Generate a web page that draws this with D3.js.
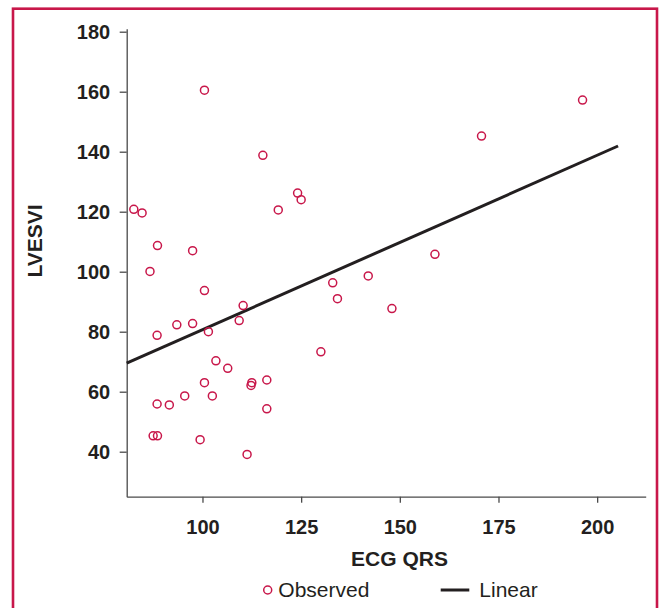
<!DOCTYPE html>
<html>
<head>
<meta charset="utf-8">
<script src="https://cdn.jsdelivr.net/npm/d3@7"></script>
<style>
  body { margin: 0; background: #fff; }
  text { font-family: "Liberation Sans", Arial, sans-serif; fill: #231f20; }
  .axis path, .axis line { stroke: #4a4a4a; stroke-width: 1.3px; }
  .axis text { font-size: 20px; font-weight: bold; }
</style>
</head>
<body>
<div id="chart"></div>
<script>
// observed points
var qrs = [100.5, 115.3, 82.6, 84.7, 119.2, 124.1, 125.0, 88.6, 97.5, 86.7,
           100.5, 110.3, 133.0, 134.2, 88.5, 93.5, 97.5, 101.5, 109.3, 130.0,
           103.4, 106.4, 100.5, 112.5, 112.3, 116.3, 95.5, 102.5, 88.5, 91.6,
           116.3, 87.5, 88.6, 99.4, 111.3, 196.3, 170.7, 158.9, 142.0, 148.0];
var lvesvi = [160.5, 138.8, 120.8, 119.6, 120.6, 126.2, 124.0, 108.7, 107.0, 100.1,
              93.7, 88.7, 96.3, 91.0, 78.8, 82.3, 82.7, 80.0, 83.7, 73.3,
              70.3, 67.8, 63.0, 63.0, 62.1, 63.9, 58.6, 58.6, 55.9, 55.6,
              54.3, 45.3, 45.3, 44.0, 39.1, 157.2, 145.2, 105.8, 98.6, 87.7];

// linear fit line ends
var fitX = [80.8, 205.3];
var fitY = [69.5, 141.9];

var xTicks = [100, 125, 150, 175, 200];
var yTicks = [40, 60, 80, 100, 120, 140, 160, 180];

var margin = {top: 28.7, right: 13.3, bottom: 111.3, left: 126.7},
    W = 659, H = 608,
    width = W - margin.left - margin.right,
    height = H - margin.top - margin.bottom;

var red = "#c8174a";

var x = d3.scaleLinear().domain([80.8, 212.3]).range([0, width]),
    y = d3.scaleLinear().domain([25, 181]).range([height, 0]);

var svg = d3.select("#chart").append("svg")
    .attr("width", W)
    .attr("height", H);

// red frame
svg.append("rect")
    .attr("x", 13).attr("y", 8.7)
    .attr("width", 644).attr("height", 640)
    .attr("fill", "none")
    .attr("stroke", red)
    .attr("stroke-width", 2.6);

var g = svg.append("g")
    .attr("transform", "translate(" + margin.left + "," + margin.top + ")");

g.append("g")
    .attr("class", "x axis")
    .attr("transform", "translate(0," + height + ")")
    .call(d3.axisBottom(x).tickValues(xTicks).tickSize(6).tickSizeOuter(0).tickPadding(17));

g.append("g")
    .attr("class", "y axis")
    .call(d3.axisLeft(y).tickValues(yTicks).tickSize(7).tickSizeOuter(0).tickPadding(9.5));

var data = qrs.map(function(d, i) { return {x: d, y: lvesvi[i]}; });
var fit = fitX.map(function(d, i) { return {x: d, y: fitY[i]}; });

var line = d3.line()
    .x(function(d) { return x(d.x); })
    .y(function(d) { return y(d.y); });

g.append("path")
    .datum(fit)
    .attr("d", line)
    .attr("fill", "none")
    .attr("stroke", "#231f20")
    .attr("stroke-width", 3);

g.selectAll("circle.pt")
    .data(data)
  .enter().append("circle")
    .attr("class", "pt")
    .attr("cx", function(d) { return x(d.x); })
    .attr("cy", function(d) { return y(d.y); })
    .attr("r", 4)
    .attr("fill", "none")
    .attr("stroke", red)
    .attr("stroke-width", 1.5);

// axis titles
svg.append("text")
    .attr("x", 399.5).attr("y", 566)
    .attr("text-anchor", "middle")
    .style("font-size", "21px").style("font-weight", "bold")
    .text("ECG QRS");

svg.append("text")
    .attr("transform", "translate(41.5,241) rotate(-90)")
    .attr("text-anchor", "middle")
    .style("font-size", "21px").style("font-weight", "bold")
    .text("LVESVI");

// legend
var lg = svg.append("g");
lg.append("circle")
    .attr("cx", 267.7).attr("cy", 590).attr("r", 4)
    .attr("fill", "none").attr("stroke", red).attr("stroke-width", 1.5);
lg.append("text")
    .attr("x", 278.3).attr("y", 597.3)
    .style("font-size", "21px")
    .text("Observed");
lg.append("line")
    .attr("x1", 440.7).attr("x2", 469.3)
    .attr("y1", 590).attr("y2", 590)
    .attr("stroke", "#231f20").attr("stroke-width", 3);
lg.append("text")
    .attr("x", 479.3).attr("y", 597.3)
    .style("font-size", "21px")
    .text("Linear");
</script>
</body>
</html>
